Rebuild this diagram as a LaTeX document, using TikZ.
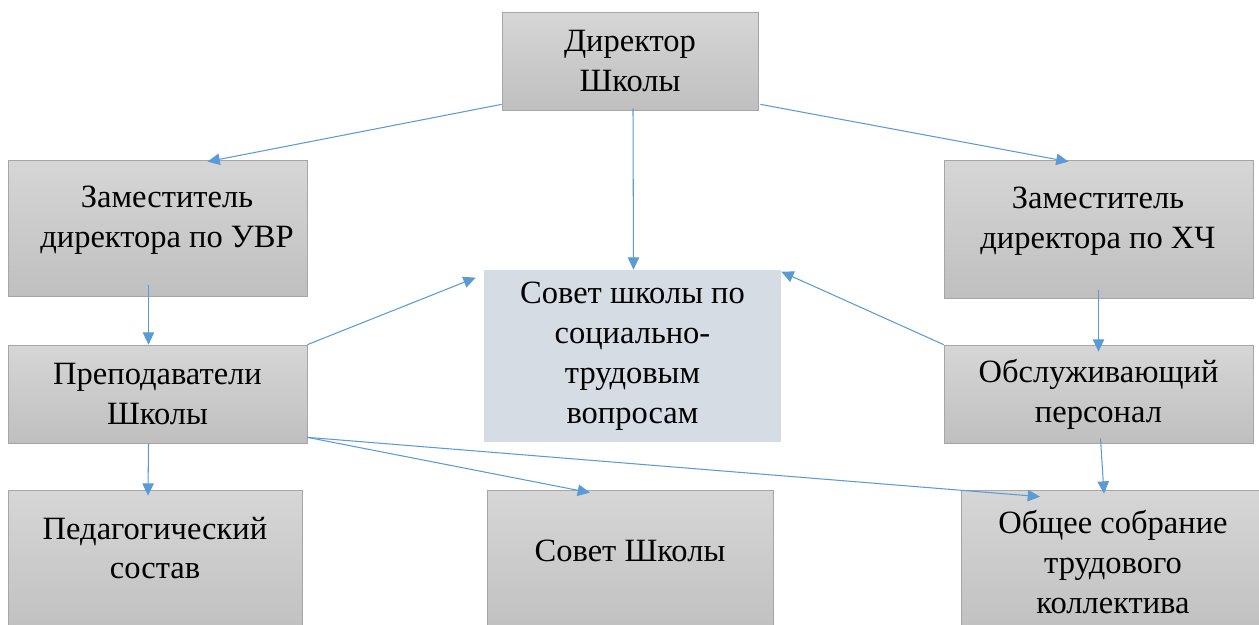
\documentclass[tikz,border=0pt]{standalone}
\usepackage{fontspec}
\setmainfont{Liberation Serif}
\usetikzlibrary{calc,arrows.meta,positioning}
\definecolor{linkblue}{HTML}{5B9BD5}
\definecolor{councilfill}{HTML}{D6DCE4}
\tikzset{
    box/.style = {
        draw = gray!70,
        top color = gray!32,
        bottom color = gray!50,
        align = center,
        font = \fontsize{18.5}{22.7}\selectfont,
        inner sep = 0pt,
        },
    council/.style = {
        fill = councilfill,
        align = center,
        font = \fontsize{18.5}{22.7}\selectfont,
        inner sep = 0pt,
        },
    caption/.style = {
        align = center,
        font = \fontsize{18.5}{22.7}\selectfont,
        },
    link/.style = {
        draw = linkblue,
        line width = 0.6pt,
        -{Triangle[length=7pt,width=6.5pt]},
        },
}
\begin{document}
\begin{tikzpicture}[x=0.02cm, y=-0.02cm]
            \useasboundingbox (0,0) rectangle (1259,625);

            \node[box, minimum width=5.12cm, minimum height=1.96cm] (dir) at (630,61) {Директор\\Школы};
            \node[box, minimum width=5.98cm, minimum height=2.72cm] (zuvr) at (157.5,228) {};
            \node[box, minimum width=6.18cm, minimum height=2.76cm] (zxch) at (1098.5,229) {};
            \node[council, minimum width=5.94cm, minimum height=3.44cm] (sovet) at (632.5,356) {Совет школы по\\социально-\\трудовым\\вопросам};
            \node[box, minimum width=5.98cm, minimum height=1.96cm] (prep) at (157.5,394) {Преподаватели\\Школы};
            \node[box, minimum width=6.18cm, minimum height=1.96cm] (obsl) at (1098.5,394) {Обслуживающий\\персонал};
            \node[box, minimum width=5.88cm, minimum height=3cm] (ped) at (155,565) {};
            \node[box, minimum width=5.72cm, minimum height=3cm] (shk) at (630,565) {};
            \node[box, minimum width=6.04cm, minimum height=3cm] (obsh) at (1112,565) {};

            \node[caption] (zuvrtext) at (167,220) {Заместитель\\директора по УВР};
            \node[caption] (zxchtext) at (1098,221) {Заместитель\\директора по ХЧ};
            \node[caption] (pedtext) at (155,548) {Педагогический\\состав};
            \node[caption] (shktext) at (630,551) {Совет Школы};
            \node[caption] (obshtext) at (1113,562) {Общее собрание\\трудового\\коллектива};

            \path ($(dir.south west)+(0,-6)$) edge[link] ($(zuvr.north)+(50,2)$);
            \path ($(dir.south)+(3,-2)$) edge[link] ($(sovet.north)+(1,0)$);
            \path ($(dir.south east)+(2,-6)$) edge[link] ($(zxch.north)+(-30,2)$);
            \path ($(zuvr.south)+(-9,-11)$) edge[link] ($(prep.north)+(-9,0)$);
            \path ($(zxch.south)+(0,-8)$) edge[link] ($(obsl.north)+(0,7)$);
            \path (prep.north east) edge[link] ($(sovet.north west)+(-8,8)$);
            \path (obsl.north west) edge[link] ($(sovet.north east)+(0,2)$);
            \path ($(prep.south)+(-9,0)$) edge[link] ($(ped.north)+(-7,6)$);
            \path ($(prep.south east)+(0,-6)$) edge[link] ($(shk.north)+(-40,3)$);
            \path ($(prep.south east)+(0,-6)$) edge[link] ($(obsh.north)+(-72,7)$);
            \path ($(obsl.south)+(2,-5)$) edge[link] ($(obsh.north)+(-8,4)$);
\end{tikzpicture}
\end{document}
